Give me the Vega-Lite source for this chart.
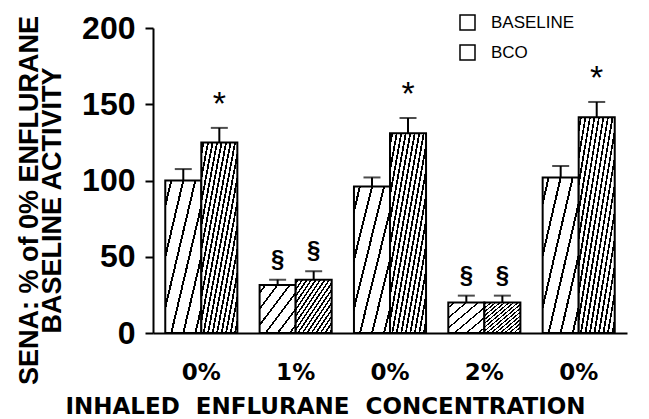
{
  "$schema": "https://vega.github.io/schema/vega-lite/v6.json",
  "width": 474,
  "height": 305,
  "autosize": {"type": "none"},
  "padding": {"left": 153, "top": 28, "right": 22, "bottom": 86},
  "background": "white",
  "config": {
    "view": {"stroke": null},
    "axis": {
      "domainColor": "black",
      "domainWidth": 2,
      "tickColor": "black",
      "tickWidth": 2,
      "grid": false,
      "labelColor": "black",
      "titleColor": "black"
    }
  },
  "data": {
    "values": [
      {"grp": "0%_a", "cond": "BASELINE", "val": 100, "err": 107.5, "sym": ""},
      {"grp": "0%_a", "cond": "BCO", "val": 125, "err": 134.5, "sym": "*"},
      {"grp": "1%_b", "cond": "BASELINE", "val": 31.5, "err": 35, "sym": "§"},
      {"grp": "1%_b", "cond": "BCO", "val": 35, "err": 40.5, "sym": "§"},
      {"grp": "0%_c", "cond": "BASELINE", "val": 96, "err": 102, "sym": ""},
      {"grp": "0%_c", "cond": "BCO", "val": 131, "err": 141, "sym": "*"},
      {"grp": "2%_d", "cond": "BASELINE", "val": 20, "err": 24.5, "sym": "§"},
      {"grp": "2%_d", "cond": "BCO", "val": 20, "err": 24.5, "sym": "§"},
      {"grp": "0%_e", "cond": "BASELINE", "val": 102, "err": 109.5, "sym": ""},
      {"grp": "0%_e", "cond": "BCO", "val": 141.5, "err": 151.5, "sym": "*"}
    ]
  },
  "encoding": {
    "x": {
      "field": "grp",
      "type": "nominal",
      "sort": null,
      "scale": {"paddingInner": 0.236, "paddingOuter": 0.13},
      "axis": {
        "labelExpr": "split(datum.value, '_')[0]",
        "labelAngle": 0,
        "labelFont": "DejaVu Sans",
        "labelFontWeight": "bold",
        "labelFontSize": 23,
        "labelBaseline": "middle",
        "labelPadding": 39,
        "ticks": false,
        "tickSize": 0,
        "title": "INHALED\u00a0\u00a0ENFLURANE\u00a0\u00a0CONCENTRATION",
        "titleFont": "DejaVu Sans",
        "titleFontWeight": "bold",
        "titleFontSize": 23,
        "titleX": 172,
        "titleY": 73,
        "titleAlign": "center",
        "titleBaseline": "middle"
      }
    },
    "xOffset": {"field": "cond", "type": "nominal", "scale": {"paddingInner": 0, "paddingOuter": 0}}
  },
  "layer": [
    {
      "mark": {"type": "bar", "strokeWidth": 2},
      "encoding": {
        "y": {
          "field": "val",
          "type": "quantitative",
          "scale": {"domain": [0, 200], "nice": false},
          "axis": {
            "values": [0, 50, 100, 150, 200],
            "tickSize": 8,
            "labelFont": "Liberation Sans",
            "labelFontWeight": "bold",
            "labelFontSize": 32,
            "labelPadding": 10,
            "title": ["SENA: % of 0% ENFLURANE", "BASELINE ACTIVITY"],
            "titleFont": "Liberation Sans",
            "titleFontWeight": "bold",
            "titleFontSize": 27,
            "titleLineHeight": 23,
            "titleX": -124,
            "titleY": 172,
            "titleAlign": "center",
            "titleBaseline": "middle"
          }
        },
        "stroke": {
          "field": "cond",
          "type": "nominal",
          "scale": {"domain": ["BASELINE", "BCO"], "range": ["black", "black"]},
          "legend": {
            "title": null,
            "orient": "none",
            "legendX": 306,
            "legendY": -14,
            "padding": 0,
            "symbolType": "square",
            "symbolSize": 225,
            "symbolStrokeWidth": 1.5,
            "symbolOpacity": 1,
            "labelFont": "Liberation Sans",
            "labelFontSize": 17,
            "labelColor": "black",
            "labelOffset": 15,
            "rowPadding": 9,
            "encode": {
              "symbols": {
                "fill": {
                  "condition": {
                    "test": "datum.value === 'BCO'",
                    "value": {"gradient": "linear", "x1": 0, "y1": 0, "x2": 1, "y2": 1, "stops": [
                      {"offset": 0, "color": "white"},
                      {"offset": 0.12, "color": "white"}, {"offset": 0.12, "color": "black"}, {"offset": 0.24, "color": "black"}, {"offset": 0.24, "color": "white"},
                      {"offset": 0.38, "color": "white"}, {"offset": 0.38, "color": "black"}, {"offset": 0.5, "color": "black"}, {"offset": 0.5, "color": "white"},
                      {"offset": 0.64, "color": "white"}, {"offset": 0.64, "color": "black"}, {"offset": 0.76, "color": "black"}, {"offset": 0.76, "color": "white"},
                      {"offset": 1, "color": "white"}
                    ]}
                  },
                  "value": {"gradient": "linear", "x1": 0, "y1": 0, "x2": 1, "y2": 1, "stops": [
                    {"offset": 0, "color": "white"},
                    {"offset": 0.44, "color": "white"}, {"offset": 0.44, "color": "black"}, {"offset": 0.56, "color": "black"}, {"offset": 0.56, "color": "white"},
                    {"offset": 1, "color": "white"}
                  ]}
                },
                "strokeWidth": {"value": 1.5},
                "opacity": {"value": 1}
              }
            }
          }
        },
        "fill": {
          "condition": {
            "test": "datum.cond === 'BCO'",
            "value": {"gradient": "linear", "x1": 0, "y1": 0, "x2": 1, "y2": 1, "stops": [
              {"offset": 0, "color": "white"},
              {"offset": 0.0188, "color": "white"}, {"offset": 0.0188, "color": "black"}, {"offset": 0.0438, "color": "black"}, {"offset": 0.0438, "color": "white"},
              {"offset": 0.0813, "color": "white"}, {"offset": 0.0813, "color": "black"}, {"offset": 0.1063, "color": "black"}, {"offset": 0.1063, "color": "white"},
              {"offset": 0.1438, "color": "white"}, {"offset": 0.1438, "color": "black"}, {"offset": 0.1688, "color": "black"}, {"offset": 0.1688, "color": "white"},
              {"offset": 0.2063, "color": "white"}, {"offset": 0.2063, "color": "black"}, {"offset": 0.2313, "color": "black"}, {"offset": 0.2313, "color": "white"},
              {"offset": 0.2688, "color": "white"}, {"offset": 0.2688, "color": "black"}, {"offset": 0.2938, "color": "black"}, {"offset": 0.2938, "color": "white"},
              {"offset": 0.3313, "color": "white"}, {"offset": 0.3313, "color": "black"}, {"offset": 0.3563, "color": "black"}, {"offset": 0.3563, "color": "white"},
              {"offset": 0.3938, "color": "white"}, {"offset": 0.3938, "color": "black"}, {"offset": 0.4188, "color": "black"}, {"offset": 0.4188, "color": "white"},
              {"offset": 0.4563, "color": "white"}, {"offset": 0.4563, "color": "black"}, {"offset": 0.4813, "color": "black"}, {"offset": 0.4813, "color": "white"},
              {"offset": 0.5188, "color": "white"}, {"offset": 0.5188, "color": "black"}, {"offset": 0.5438, "color": "black"}, {"offset": 0.5438, "color": "white"},
              {"offset": 0.5813, "color": "white"}, {"offset": 0.5813, "color": "black"}, {"offset": 0.6063, "color": "black"}, {"offset": 0.6063, "color": "white"},
              {"offset": 0.6438, "color": "white"}, {"offset": 0.6438, "color": "black"}, {"offset": 0.6688, "color": "black"}, {"offset": 0.6688, "color": "white"},
              {"offset": 0.7063, "color": "white"}, {"offset": 0.7063, "color": "black"}, {"offset": 0.7313, "color": "black"}, {"offset": 0.7313, "color": "white"},
              {"offset": 0.7688, "color": "white"}, {"offset": 0.7688, "color": "black"}, {"offset": 0.7938, "color": "black"}, {"offset": 0.7938, "color": "white"},
              {"offset": 0.8313, "color": "white"}, {"offset": 0.8313, "color": "black"}, {"offset": 0.8563, "color": "black"}, {"offset": 0.8563, "color": "white"},
              {"offset": 0.8938, "color": "white"}, {"offset": 0.8938, "color": "black"}, {"offset": 0.9188, "color": "black"}, {"offset": 0.9188, "color": "white"},
              {"offset": 0.9563, "color": "white"}, {"offset": 0.9563, "color": "black"}, {"offset": 0.9813, "color": "black"}, {"offset": 0.9813, "color": "white"},
              {"offset": 1, "color": "white"}
            ]}
          },
          "value": {"gradient": "linear", "x1": 0, "y1": 0, "x2": 1, "y2": 1, "stops": [
            {"offset": 0, "color": "white"}, {"offset": 0.069, "color": "white"}, {"offset": 0.069, "color": "black"}, {"offset": 0.097, "color": "black"}, {"offset": 0.097, "color": "white"},
            {"offset": 0.236, "color": "white"}, {"offset": 0.236, "color": "black"}, {"offset": 0.264, "color": "black"}, {"offset": 0.264, "color": "white"},
            {"offset": 0.403, "color": "white"}, {"offset": 0.403, "color": "black"}, {"offset": 0.431, "color": "black"}, {"offset": 0.431, "color": "white"},
            {"offset": 0.569, "color": "white"}, {"offset": 0.569, "color": "black"}, {"offset": 0.597, "color": "black"}, {"offset": 0.597, "color": "white"},
            {"offset": 0.736, "color": "white"}, {"offset": 0.736, "color": "black"}, {"offset": 0.764, "color": "black"}, {"offset": 0.764, "color": "white"},
            {"offset": 0.903, "color": "white"}, {"offset": 0.903, "color": "black"}, {"offset": 0.931, "color": "black"}, {"offset": 0.931, "color": "white"},
            {"offset": 1, "color": "white"}
          ]}
        }
      }
    },
    {
      "mark": {"type": "rule", "color": "black", "strokeWidth": 2},
      "encoding": {
        "y": {"field": "val", "type": "quantitative"},
        "y2": {"field": "err"}
      }
    },
    {
      "mark": {"type": "tick", "color": "black", "thickness": 2, "size": 17},
      "encoding": {
        "y": {"field": "err", "type": "quantitative"}
      }
    },
    {
      "transform": [{"filter": "datum.sym === '*'"}],
      "mark": {"type": "text", "font": "Liberation Sans", "fontSize": 34, "baseline": "bottom", "dy": -6, "color": "black"},
      "encoding": {
        "y": {"field": "err", "type": "quantitative"},
        "text": {"field": "sym"}
      }
    },
    {
      "transform": [{"filter": "datum.sym === '§'"}],
      "mark": {"type": "text", "font": "Liberation Sans", "fontSize": 24, "fontWeight": "bold", "baseline": "bottom", "dy": -8, "color": "black"},
      "encoding": {
        "y": {"field": "err", "type": "quantitative"},
        "text": {"field": "sym"}
      }
    }
  ]
}
